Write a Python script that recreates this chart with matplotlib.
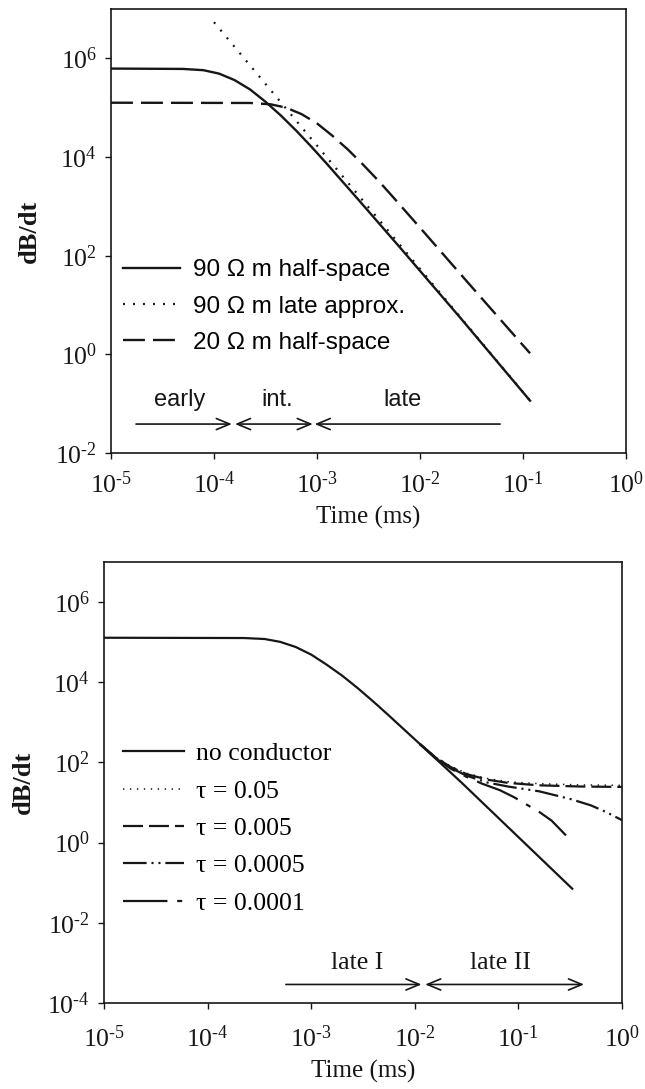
import matplotlib
matplotlib.use('Agg')
import matplotlib.pyplot as plt
from matplotlib.ticker import NullLocator

plt.rcParams['font.family'] = 'Liberation Serif'
plt.rcParams['mathtext.fontset'] = 'custom'
plt.rcParams['mathtext.rm'] = 'Liberation Serif'
plt.rcParams['lines.scale_dashes'] = False

# --- upper panel: homogeneous half-space responses (time in ms) ---
t_90 = [1.0e-5, 5.0e-5, 7.9e-5, 1.12e-4, 1.58e-4, 2.24e-4, 3.16e-4, 4.47e-4,
        6.31e-4, 8.91e-4, 1.26e-3, 2.51e-3, 6.31e-3, 2.51e-2, 1.17e-1]
db_90 = [6.2e5, 6.1e5, 5.75e5, 4.9e5, 3.63e5, 2.34e5, 1.32e5, 6.9e4,
         3.39e4, 1.58e4, 7.1e3, 1.38e3, 151, 5.25, 0.115]

t_90_late = [1.0e-4, 1.0e-3, 1.0e-2, 1.17e-1]
db_90_late = [5.4e6, 1.7e4, 54, 0.116]

t_20 = [1.0e-5, 2.24e-4, 3.55e-4, 5.01e-4, 7.08e-4, 1.0e-3, 1.41e-3, 2.0e-3,
        2.82e-3, 3.98e-3, 5.62e-3, 1.12e-2, 2.82e-2, 1.17e-1]
db_20 = [1.26e5, 1.245e5, 1.17e5, 1.0e5, 7.4e4, 4.8e4, 2.7e4, 1.41e4,
         6.9e3, 3.24e3, 1.45e3, 282, 30.9, 1.05]

top_labels = ['90 \u03a9 m half-space', '90 \u03a9 m late approx.', '20 \u03a9 m half-space']

# time windows (start, end, arrow style) and label position
top_windows = [(1.75e-5, 1.49e-4, '->'), (1.6e-4, 9.1e-4, '<->'), (9.5e-4, 6.0e-2, '<-')]
top_window_names = ['early', 'int.', 'late']
top_window_x = [4.6e-5, 4.1e-4, 6.8e-3]

# --- lower panel: half-space plus conductor with decay constant tau ---
t_nc = [1.0e-5, 2.24e-4, 3.55e-4, 5.01e-4, 7.08e-4, 1.0e-3, 1.41e-3, 2.0e-3,
        2.82e-3, 3.98e-3, 5.62e-3, 1.12e-2, 2.82e-2, 3.31e-1]
db_nc = [1.29e5, 1.27e5, 1.2e5, 1.02e5, 7.6e4, 4.9e4, 2.75e4, 1.45e4,
         7.1e3, 3.3e3, 1.48e3, 288, 31.6, 0.071]

t_tau_a = [1.12e-2, 1.58e-2, 2.24e-2, 3.16e-2, 5.01e-2, 7.94e-2, 0.158, 0.398, 1.0]
db_tau_05 = [288, 138, 79.4, 53.7, 39.8, 33.1, 29.5, 27.5, 26.9]
db_tau_005 = [288, 135, 75.9, 51.3, 37.2, 30.9, 26.9, 25.1, 24.5]

t_tau_0005 = [1.12e-2, 1.58e-2, 2.24e-2, 3.16e-2, 5.01e-2, 7.94e-2, 0.158,
              0.316, 0.501, 0.708, 1.0]
db_tau_0005 = [288, 132, 72.4, 46.8, 31.6, 25.1, 19.1, 12.3, 8.5, 5.75, 3.63]

t_tau_0001 = [1.12e-2, 1.58e-2, 2.24e-2, 3.16e-2, 4.47e-2, 6.61e-2, 9.12e-2,
              0.120, 0.158, 0.209, 0.288]
db_tau_0001 = [288, 129, 69.2, 43.7, 29.5, 20.4, 13.5, 8.9, 5.9, 3.55, 1.51]

bottom_labels = ['no conductor', '\u03c4 = 0.05', '\u03c4 = 0.005',
                 '\u03c4 = 0.0005', '\u03c4 = 0.0001']

bottom_windows = [(5.7e-4, 1.16e-2, '->'), (1.26e-2, 0.43, '<->')]
bottom_window_names = ['late I', 'late II']
bottom_window_x = [2.77e-3, 6.76e-2]

x_ticks = [1e-5, 1e-4, 1e-3, 1e-2, 1e-1, 1e0]
x_tick_labels = [r'$\mathregular{10^{‐5}}$', r'$\mathregular{10^{‐4}}$',
                 r'$\mathregular{10^{‐3}}$', r'$\mathregular{10^{‐2}}$',
                 r'$\mathregular{10^{‐1}}$', r'$\mathregular{10^{0}}$']
y_ticks_top = [1e-2, 1e0, 1e2, 1e4, 1e6]
y_tick_labels_top = [r'$\mathregular{10^{‐2}}$', r'$\mathregular{10^{0}}$',
                     r'$\mathregular{10^{2}}$', r'$\mathregular{10^{4}}$',
                     r'$\mathregular{10^{6}}$']
y_ticks_bot = [1e-4, 1e-2, 1e0, 1e2, 1e4, 1e6]
y_tick_labels_bot = [r'$\mathregular{10^{‐4}}$'] + y_tick_labels_top

ink = '#161616'


def style_axes(ax, yticks, ylabels, ylim, xpad):
    ax.set_xscale('log')
    ax.set_yscale('log')
    ax.set_xlim(1e-5, 1e0)
    ax.set_ylim(*ylim)
    ax.set_xticks(x_ticks)
    ax.set_xticklabels(x_tick_labels)
    ax.set_yticks(yticks)
    ax.set_yticklabels(ylabels)
    ax.xaxis.set_minor_locator(NullLocator())
    ax.yaxis.set_minor_locator(NullLocator())
    ax.tick_params(axis='both', direction='out', length=4, width=1.0,
                   color=ink, labelsize=18.5, labelcolor=ink)
    ax.tick_params(axis='x', pad=xpad)
    ax.tick_params(axis='y', pad=6)
    for sp in ax.spines.values():
        sp.set_linewidth(1.2)
        sp.set_color(ink)
    ax.set_ylabel('dB/dt', fontsize=19, fontweight='bold', color=ink)
    ax.set_xlabel('Time (ms)', fontsize=18, color=ink, labelpad=6)


def draw_windows(ax, windows, names, xs, y_arrow, y_text, font):
    for (a, b, style), name, xt in zip(windows, names, xs):
        ax.annotate('', xy=(b, y_arrow), xytext=(a, y_arrow),
                    arrowprops=dict(arrowstyle=style + ',head_length=0.6,head_width=0.25',
                                    lw=1.2, color=ink, shrinkA=0, shrinkB=0,
                                    mutation_scale=16))
        ax.text(xt, y_text, name, ha='center', va='center', color=ink, **font)


fig = plt.figure(figsize=(6.45, 10.89), dpi=100)
ax1 = fig.add_axes([111 / 645, 1 - 453 / 1089, 515 / 645, 444 / 1089])
ax2 = fig.add_axes([104 / 645, 1 - 1003 / 1089, 518 / 645, 441 / 1089])

# upper panel
ax1.plot(t_90, db_90, color=ink, lw=1.7, label=top_labels[0])
ax1.plot(t_90_late, db_90_late, color=ink, lw=1.6, linestyle=(0, (1.4, 5.8)),
         label=top_labels[1])
ax1.plot(t_20, db_20, color=ink, lw=1.7, linestyle=(0, (15.8, 5.8)),
         label=top_labels[2])
style_axes(ax1, y_ticks_top, y_tick_labels_top, (1e-2, 1e7), 9)
ax1.yaxis.set_label_coords(-0.136, 0.5)
ax1.legend(loc='upper left', bbox_to_anchor=(0.023, 0.436), frameon=False,
           borderpad=0, borderaxespad=0, handlelength=2.35, handletextpad=0.54,
           labelspacing=0.58, prop={'family': 'Liberation Sans', 'size': 17.5})
draw_windows(ax1, top_windows, top_window_names, top_window_x, 0.0386, 0.117,
             {'family': 'Liberation Sans', 'size': 17})

# lower panel
ax2.plot(t_nc, db_nc, color=ink, lw=1.6, label=bottom_labels[0])
ax2.plot(t_tau_a, db_tau_05, color=ink, lw=1.1, linestyle=(0, (1.0, 4.0)),
         label=bottom_labels[1])
ax2.plot(t_tau_a, db_tau_005, color=ink, lw=1.6, linestyle=(0, (14.4, 4.3)),
         label=bottom_labels[2])
ax2.plot(t_tau_0005, db_tau_0005, color=ink, lw=1.6,
         linestyle=(0, (17, 3.5, 1.5, 3.5, 1.5, 3.5)), label=bottom_labels[3])
ax2.plot(t_tau_0001, db_tau_0001, color=ink, lw=1.6,
         linestyle=(0, (32, 7, 3.6, 7)), label=bottom_labels[4])
style_axes(ax2, y_ticks_bot, y_tick_labels_bot, (1e-4, 1e7), 12)
ax2.yaxis.set_label_coords(-0.133, 0.5)
ax2.legend(loc='upper left', bbox_to_anchor=(0.036, 0.591), frameon=False,
           borderpad=0, borderaxespad=0, handlelength=2.37, handletextpad=0.47,
           labelspacing=0.56, prop={'family': 'Liberation Serif', 'size': 18.5})
draw_windows(ax2, bottom_windows, bottom_window_names, bottom_window_x, 2.9e-4, 1.0e-3,
             {'family': 'Liberation Serif', 'size': 18.5})

fig.savefig('out.png', dpi=100, facecolor='white')
